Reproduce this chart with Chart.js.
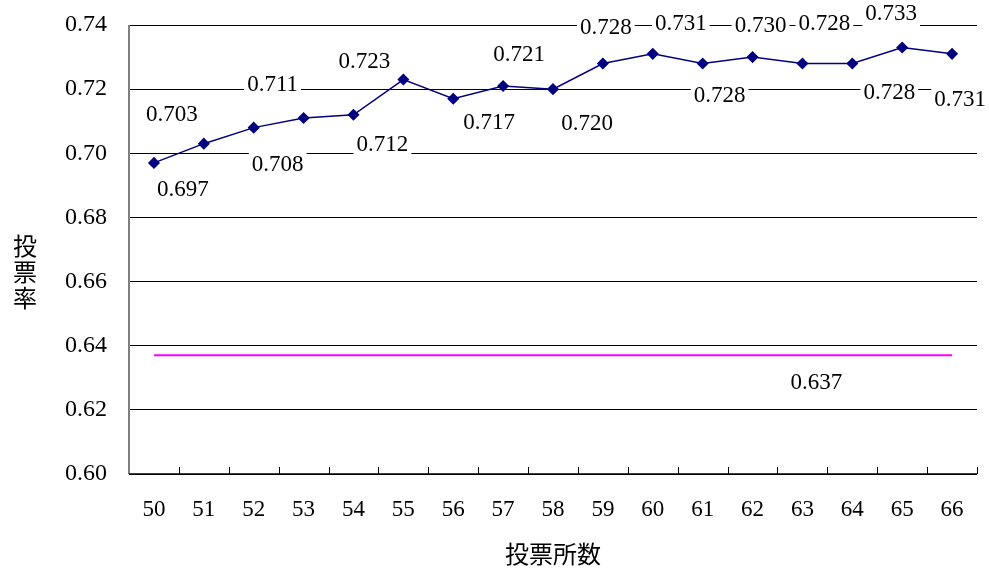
<!DOCTYPE html>
<html>
<head>
<meta charset="utf-8">
<script src="https://cdn.jsdelivr.net/npm/chart.js@4"></script>
<style>
  html, body { margin: 0; padding: 0; background: #fff; }
  #wrap { width: 989px; height: 572px; }
</style>
</head>
<body>
<div id="wrap"><canvas id="turnout"></canvas></div>
<script>
// x categories: number of polling stations
const stations = ["50","51","52","53","54","55","56","57","58","59","60","61","62","63","64","65","66"];
// turnout per count
const turnout = [0.697,0.703,0.708,0.711,0.712,0.723,0.717,0.721,0.720,0.728,0.731,0.728,0.730,0.728,0.728,0.733,0.731];
// reference level
const baseline = [0.637,0.637,0.637,0.637,0.637,0.637,0.637,0.637,0.637,0.637,0.637,0.637,0.637,0.637,0.637,0.637,0.637];
const yTicks = [0.60,0.62,0.64,0.66,0.68,0.70,0.72,0.74];

// label nudges (px) relative to each point, as hand-placed in the original
const labelNudge = [[29,27],[-32,-29],[24,37],[-31,-33],[29,30],[-39,-18],[36,24],[16,-31],[34,35],
                    [3,-36],[28,-30],[17,32],[8,-31],[22,-40],[37,29],[-11,-33],[8,46]];
const baselineLabelAt = 13;
const baselineNudge = [14, 28];

const serif = "'Liberation Serif', 'Times New Roman', serif";
const cjk = "'Noto Sans CJK JP', 'Noto Sans CJK SC', sans-serif";

function drawLabel(ctx, text, x, y) {
  ctx.font = "23px " + serif;
  const w = ctx.measureText(text).width;
  ctx.fillStyle = "#fff";
  ctx.fillRect(x - w / 2 - 3, y - 13, w + 6, 26);
  ctx.fillStyle = "#000";
  ctx.textAlign = "center";
  ctx.textBaseline = "middle";
  ctx.fillText(text, x, y);
}

const extras = {
  id: "extras",
  beforeDatasetsDraw(chart) {
    const ctx = chart.ctx;
    const area = chart.chartArea;
    ctx.save();
    // inner tick marks on x axis at category boundaries
    ctx.strokeStyle = "#000";
    ctx.lineWidth = 1;
    const step = (area.right - area.left) / stations.length;
    for (let i = 0; i <= stations.length; i++) {
      const px = Math.round(area.left + i * step) + 0.5;
      ctx.beginPath();
      ctx.moveTo(px, area.bottom);
      ctx.lineTo(px, area.bottom - 7);
      ctx.stroke();
    }
    // left axis in grey
    ctx.strokeStyle = "#808080";
    ctx.lineWidth = 2;
    ctx.beginPath();
    ctx.moveTo(area.left, area.top);
    ctx.lineTo(area.left, area.bottom);
    ctx.stroke();
    // bottom axis
    ctx.strokeStyle = "#000";
    ctx.lineWidth = 1.5;
    ctx.beginPath();
    ctx.moveTo(area.left, area.bottom);
    ctx.lineTo(area.right, area.bottom);
    ctx.stroke();
    ctx.restore();
  },
  afterDatasetsDraw(chart) {
    const ctx = chart.ctx;
    ctx.save();
    const meta = chart.getDatasetMeta(0);
    meta.data.forEach((pt, i) => {
      drawLabel(ctx, turnout[i].toFixed(3), pt.x + labelNudge[i][0], pt.y + labelNudge[i][1]);
    });
    const bm = chart.getDatasetMeta(1).data[baselineLabelAt];
    drawLabel(ctx, baseline[baselineLabelAt].toFixed(3), bm.x + baselineNudge[0], bm.y + baselineNudge[1]);
    // y axis title, stacked vertically
    ctx.font = "24px " + cjk;
    ctx.fillStyle = "#000";
    ctx.textAlign = "center";
    ctx.textBaseline = "middle";
    ["投", "票", "率"].forEach((c, i) => ctx.fillText(c, 25, 246 + i * 26));
    ctx.restore();
  }
};

new Chart("turnout", {
  type: "line",
  data: {
    labels: stations,
    datasets: [{
      label: "投票率",
      data: turnout,
      borderColor: "#000080",
      backgroundColor: "#000080",
      borderWidth: 1.5,
      pointStyle: "rectRot",
      pointRadius: 5,
      pointHoverRadius: 5,
      tension: 0
    }, {
      label: "平均",
      data: baseline,
      borderColor: "#ff00ff",
      borderWidth: 2,
      pointRadius: 0,
      pointHoverRadius: 0
    }]
  },
  plugins: [extras],
  options: {
    responsive: true,
    maintainAspectRatio: false,
    animation: false,
    events: [],
    layout: { padding: { top: 25, right: 12, left: 0, bottom: 0 } },
    plugins: {
      legend: { display: false },
      tooltip: { enabled: false }
    },
    scales: {
      x: {
        offset: true,
        grid: { display: false },
        border: { display: false },
        ticks: { color: "#000", font: { family: serif, size: 23 }, padding: 14, maxRotation: 0 },
        title: { display: true, text: "投票所数", color: "#000", font: { family: cjk, size: 24 }, padding: { top: 14 } },
        afterFit(scale) { scale.height = 98; }
      },
      y: {
        min: 0.60,
        max: 0.74,
        afterBuildTicks(scale) { scale.ticks = yTicks.map(v => ({ value: v })); },
        grid: { color: "#000", lineWidth: 1, drawTicks: false },
        border: { display: false },
        ticks: {
          color: "#000",
          font: { family: serif, size: 24 },
          padding: 22,
          callback: v => v.toFixed(2)
        },
        afterFit(scale) {
          scale.width = 129;
          scale.paddingTop = 10;
          scale.paddingBottom = 10;
        }
      }
    }
  }
});
</script>
</body>
</html>
